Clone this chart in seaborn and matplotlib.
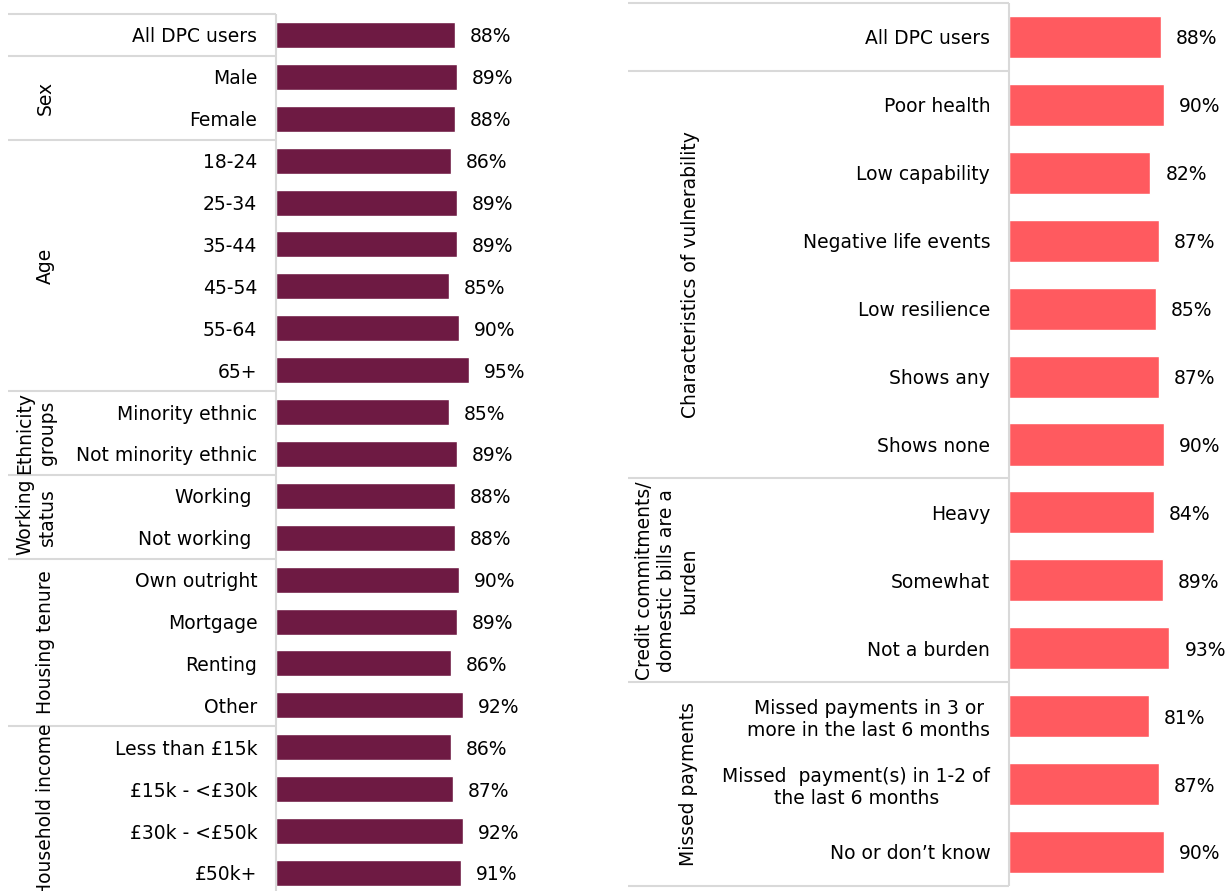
import matplotlib
matplotlib.use("Agg")
import matplotlib.pyplot as plt
import seaborn as sns
import pandas as pd

# ---- data -------------------------------------------------------------
left_labels = [
    "All DPC users",
    "Male", "Female",
    "18-24", "25-34", "35-44", "45-54", "55-64", "65+",
    "Minority ethnic", "Not minority ethnic",
    "Working ", "Not working ",
    "Own outright", "Mortgage", "Renting", "Other",
    "Less than £15k", "£15k - <£30k", "£30k - <£50k", "£50k+",
]
left_values = [88, 89, 88, 86, 89, 89, 85, 90, 95, 85, 89, 88, 88,
               90, 89, 86, 92, 86, 87, 92, 91]
# (group name, first row, last row)
left_groups = [
    ("Sex", 1, 2),
    ("Age", 3, 8),
    ("Ethnicity\ngroups", 9, 10),
    ("Working\nstatus", 11, 12),
    ("Housing tenure", 13, 16),
    ("Household income", 17, 20),
]

right_labels = [
    "All DPC users",
    "Poor health", "Low capability", "Negative life events",
    "Low resilience", "Shows any", "Shows none",
    "Heavy", "Somewhat", "Not a burden",
    "Missed payments in 3 or\nmore in the last 6 months",
    "Missed  payment(s) in 1-2 of\nthe last 6 months",
    "No or don\u2019t know",
]
right_values = [88, 90, 82, 87, 85, 87, 90, 84, 89, 93, 81, 87, 90]
right_groups = [
    ("Characteristics of vulnerability", 1, 6),
    ("Credit commitments/\ndomestic bills are a\nburden", 7, 9),
    ("Missed payments", 10, 12),
]

LEFT_COLOR = "#6E1A43"
RIGHT_COLOR = "#FF5A5F"
GRID_COLOR = "#D9D9D9"
FS = 13.5

sns.set_theme(style="white")
plt.rcParams["font.family"] = ["DejaVu Sans"]

W, H = 1228, 891
fig = plt.figure(figsize=(W / 100, H / 100), dpi=100)


def panel(labels, values, groups, color, bar_x0, px_per_unit,
          top_px, row_px, table_x0, group_x, bottom_line):
    n = len(labels)
    height_px = row_px * n
    ax = fig.add_axes([bar_x0 / W,
                       (H - top_px - height_px) / H,
                       px_per_unit * 100 / W,
                       height_px / H])
    df = pd.DataFrame({"label": labels, "value": values})
    sns.barplot(data=df, x="value", y="label", orient="h", color=color,
                width=0.62, saturation=1, ax=ax)
    ax.set_xlim(0, 100)
    ax.set_ylim(n - 0.5, -0.5)
    for s in ax.spines.values():
        s.set_visible(False)
    ax.set_xticks([])
    ax.set_xlabel("")
    ax.set_ylabel("")
    ax.tick_params(axis="y", length=0, pad=13.5, labelsize=FS,
                   labelcolor="#000000")
    for t in ax.get_yticklabels():
        t.set_multialignment("center")

    # value labels
    for i, v in enumerate(values):
        ax.text(v + 15 / px_per_unit, i, f"{v}%", va="center_baseline",
                ha="left", fontsize=FS, color="#000000")

    # table lines
    x_left = (table_x0 - bar_x0) / px_per_unit
    lw = 1.5
    bounds = [-0.5] + [g[1] - 0.5 for g in groups]
    if bottom_line:
        bounds.append(n - 0.5)
    for b in bounds:
        ax.plot([x_left, 0], [b, b], color=GRID_COLOR, lw=lw,
                clip_on=False, solid_capstyle="butt")
    y_end = n - 0.5 if bottom_line else n + 0.5
    ax.plot([0, 0], [-0.5, y_end], color=GRID_COLOR, lw=lw,
            clip_on=False, solid_capstyle="butt")

    # group names
    for (name, a, b), gx in zip(groups, group_x):
        ax.text((gx - bar_x0) / px_per_unit, (a + b) / 2, name,
                rotation=90, ha="center", va="center",
                multialignment="center", fontsize=FS, color="#000000",
                clip_on=False)
    return ax


panel(left_labels, left_values, left_groups, LEFT_COLOR,
      bar_x0=276, px_per_unit=2.03, top_px=14.0, row_px=41.9,
      table_x0=8, group_x=[45, 45, 36, 36, 45, 45], bottom_line=False)

panel(right_labels, right_values, right_groups, RIGHT_COLOR,
      bar_x0=1009, px_per_unit=1.725, top_px=3.0, row_px=67.92,
      table_x0=628, group_x=[690, 667, 688], bottom_line=True)

fig.savefig("out.png", dpi=100, facecolor="white")
